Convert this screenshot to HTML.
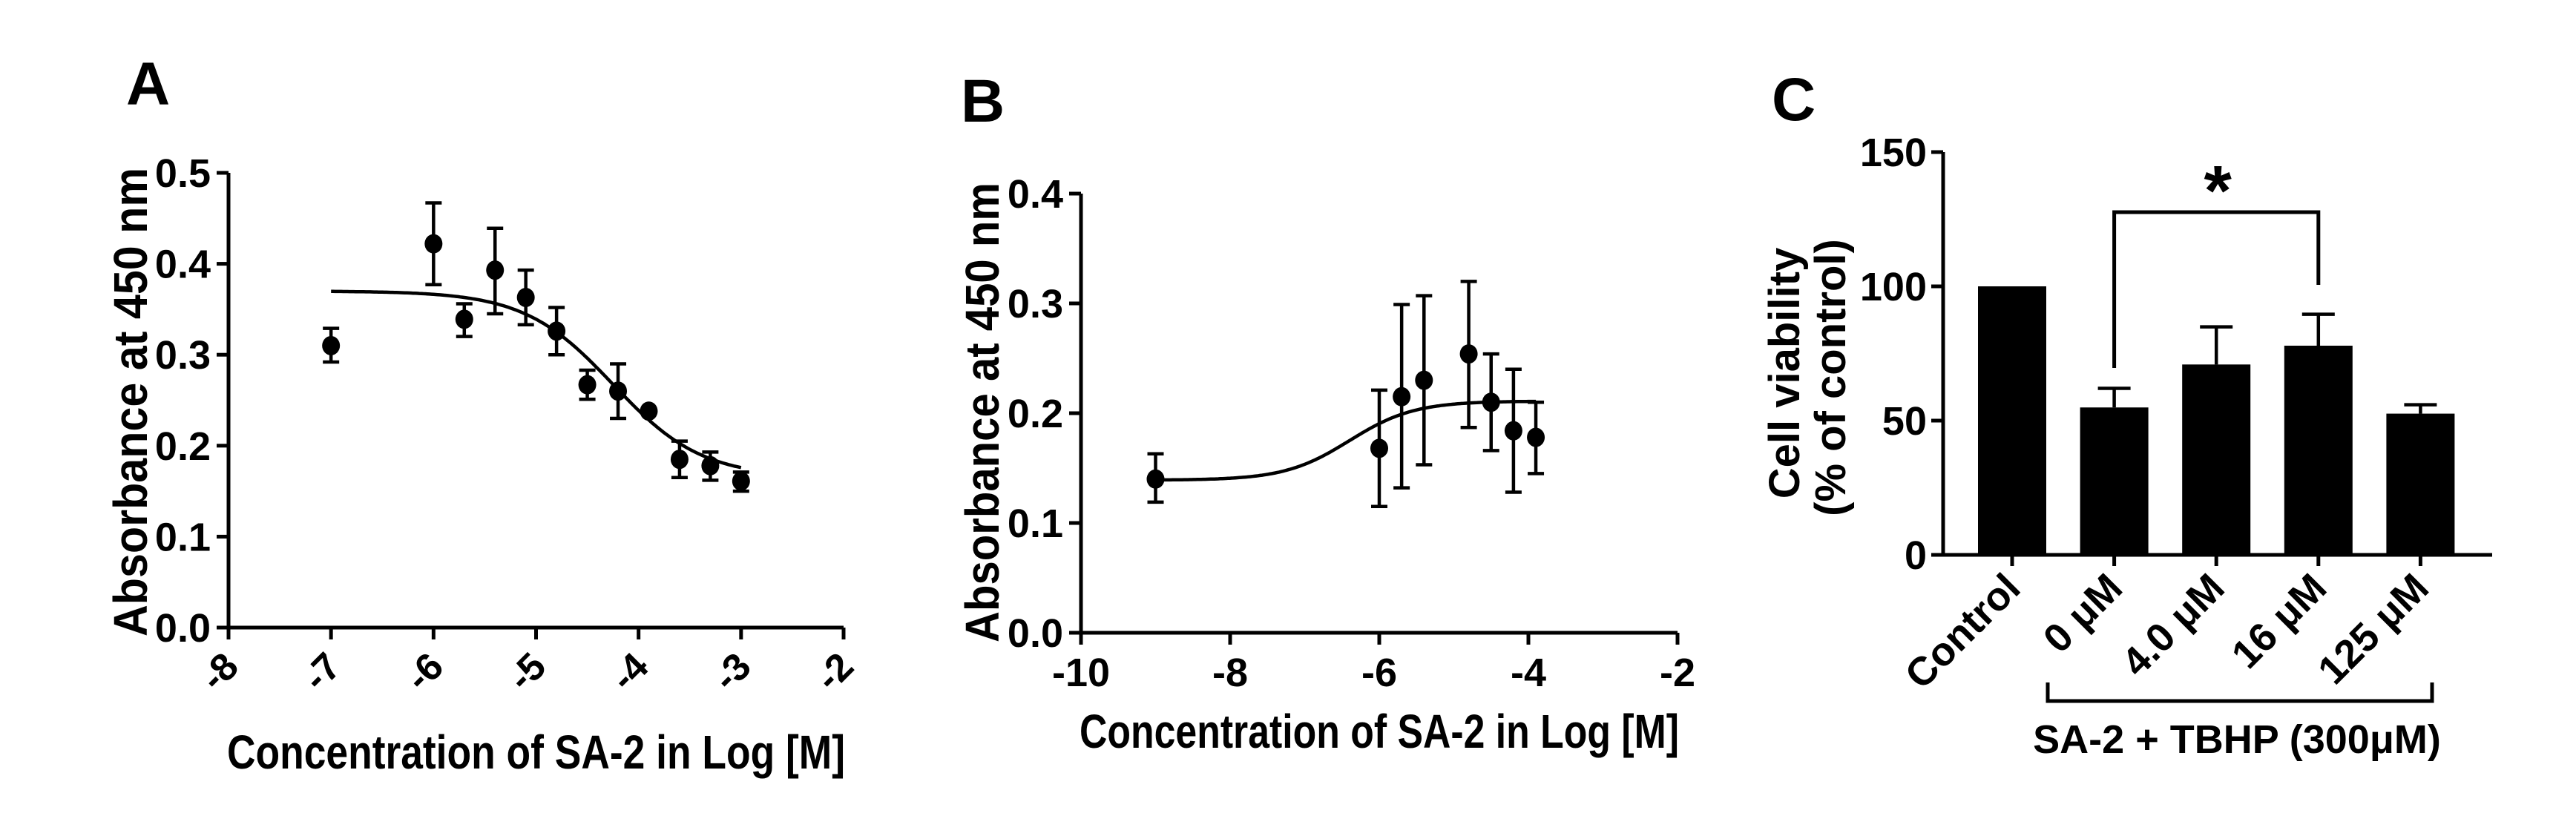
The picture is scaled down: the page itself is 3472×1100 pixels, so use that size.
<!DOCTYPE html>
<html><head><meta charset="utf-8"><style>
html,body{margin:0;padding:0;background:#fff;}
svg{display:block;}
text{font-family:"Liberation Sans Narrow","Liberation Sans",sans-serif;font-weight:bold;fill:#000;}
</style></head><body>
<svg id="fig" width="3472" height="1100" viewBox="0 0 3472 1100" xmlns="http://www.w3.org/2000/svg"></svg>
<script>
// Panel A data
const aX = [-7, -6, -5.7, -5.4, -5.1, -4.8, -4.5, -4.2, -3.9, -3.6, -3.3, -3];
const aY = [0.310, 0.422, 0.339, 0.393, 0.363, 0.326, 0.267, 0.260, 0.238, 0.185, 0.178, 0.161];
const aErrHi = [0.329, 0.467, 0.356, 0.439, 0.393, 0.352, 0.283, 0.290, 0.238, 0.205, 0.193, 0.171];
const aErrLo = [0.292, 0.377, 0.320, 0.345, 0.333, 0.300, 0.251, 0.230, 0.238, 0.165, 0.162, 0.150];
const aFit = [0.370, 0.165, -4.25, 1]; // top, bottom, logIC50, hill
const aXTicks = [-8, -7, -6, -5, -4, -3, -2];
const aYTicks = [0.0, 0.1, 0.2, 0.3, 0.4, 0.5];
// Panel B data
const bX = [-9, -6, -5.7, -5.4, -4.8, -4.5, -4.2, -3.9];
const bY = [0.140, 0.168, 0.215, 0.230, 0.254, 0.210, 0.184, 0.178];
const bErrHi = [0.163, 0.221, 0.299, 0.307, 0.320, 0.254, 0.240, 0.210];
const bErrLo = [0.119, 0.115, 0.132, 0.153, 0.187, 0.166, 0.128, 0.145];
const bFit = [0.211, 0.139, -6.4, -1];
const bXTicks = [-10, -8, -6, -4, -2];
const bYTicks = [0.0, 0.1, 0.2, 0.3, 0.4];
// Panel C data
const cCats = ["Control", "0 \u03BCM", "4.0 \u03BCM", "16 \u03BCM", "125 \u03BCM"];
const cVals = [100, 54.9, 70.9, 77.9, 52.6];
const cErr = [0, 7.1, 14.0, 11.7, 3.3];
const cYTicks = [0, 50, 100, 150];

const NS = "http://www.w3.org/2000/svg";
const svg = document.getElementById('fig');
function mk(tag, attrs, parent, txt) {
  const e = document.createElementNS(NS, tag);
  for (const k in attrs) e.setAttribute(k, attrs[k]);
  if (txt !== undefined) e.textContent = txt;
  (parent || svg).appendChild(e);
  return e;
}
const SW = 5;

function grp(name) {
  const g = mk('g', {});
  
  
  return g;
}

function scatterPanel(p) {
  const g = grp(p.name);
  const sx = v => p.x0 + (v - p.xmin) / (p.xmax - p.xmin) * (p.x1 - p.x0);
  const sy = v => p.y0 - (v - p.ymin) / (p.ymax - p.ymin) * (p.y0 - p.y1);
  const xa = mk('line', {x1: p.x0, y1: p.y0, x2: p.x1, y2: p.y0, stroke: '#000', 'stroke-width': SW}, g);
  
  
  const ya = mk('line', {x1: p.x0, y1: p.y0 + SW/2, x2: p.x0, y2: p.y1, stroke: '#000', 'stroke-width': SW}, g);
  
  
  p.yTicks.forEach(t => {
    const y = sy(t);
    mk('line', {x1: p.x0 - 16, y1: y, x2: p.x0, y2: y, stroke: '#000', 'stroke-width': SW}, g);
    const tl = mk('text', {x: p.x0 - 24, y: y + 19, 'font-size': 54, 'text-anchor': 'end'}, g, t.toFixed(1));
    
    
  });
  p.xTicks.forEach(t => {
    const x = sx(t);
    mk('line', {x1: x, y1: p.y0, x2: x, y2: p.y0 + 16, stroke: '#000', 'stroke-width': SW}, g);
    let tl;
    if (p.rotX) {
      tl = mk('text', {x: 0, y: 0, 'font-size': 52, 'text-anchor': 'middle',
        transform: `translate(${x},${p.y0 + 72}) rotate(-45)`}, g, String(t));
    } else {
      tl = mk('text', {x: x, y: p.y0 + 72, 'font-size': 54, 'text-anchor': 'middle'}, g, String(t));
    }
    
    
  });
  const f = p.fit;
  let d = '';
  const n = 200;
  for (let i = 0; i <= n; i++) {
    const xv = p.fitFrom + (p.fitTo - p.fitFrom) * i / n;
    const yv = f[1] + (f[0] - f[1]) / (1 + Math.pow(10, (xv - f[2]) * f[3]));
    d += (i ? 'L' : 'M') + sx(xv).toFixed(1) + ' ' + sy(yv).toFixed(1);
  }
  const c = mk('path', {d: d, fill: 'none', stroke: '#000', 'stroke-width': 4.5}, g);
  
  
  p.xs.forEach((xv, i) => {
    const x = sx(xv);
    if (p.hi[i] - p.lo[i] > 0.002) {
      const eb = mk('path', {d: `M${x} ${sy(p.hi[i])}V${sy(p.lo[i])}M${x-11} ${sy(p.hi[i])}H${x+11}M${x-11} ${sy(p.lo[i])}H${x+11}`,
        stroke: '#000', 'stroke-width': 4.5, fill: 'none'}, g);
      
      
    }
    const pt = mk('ellipse', {cx: x, cy: sy(p.ys[i]), rx: 12, ry: 13, fill: '#000'}, g);
    
    
  });
  const xt = mk('text', {x: (p.x0 + p.x1) / 2, y: p.xTitleY, 'font-size': 64, 'text-anchor': 'middle',
    textLength: p.x1 - p.x0 + 4, lengthAdjust: 'spacingAndGlyphs'}, g, 'Concentration of SA-2  in Log [M]');
  
  
  const yt = mk('text', {x: 0, y: 0, 'font-size': 64, 'text-anchor': 'middle', textLength: p.yTitleLen,
    lengthAdjust: 'spacingAndGlyphs', transform: `translate(${p.yTitleX},${p.yTitleMid}) rotate(-90)`}, g, 'Absorbance at 450 nm');
  
  
  const pl = mk('text', {x: p.lblX, y: p.lblY, 'font-size': 82, 'font-family': '"Liberation Sans",sans-serif'}, g, p.label);
  
  
}

scatterPanel({name: 'panel-a', x0: 308, x1: 1137, y0: 846, y1: 233, xmin: -8, xmax: -2, ymin: 0, ymax: 0.5,
  xTicks: aXTicks, yTicks: aYTicks, rotX: true, xs: aX, ys: aY, hi: aErrHi, lo: aErrLo,
  fit: aFit, fitFrom: -7, fitTo: -3, xTitleY: 1036, yTitleX: 198, yTitleMid: 542, yTitleLen: 632,
  label: 'A', lblX: 170, lblY: 141});
scatterPanel({name: 'panel-b', x0: 1457, x1: 2261, y0: 853, y1: 261, xmin: -10, xmax: -2, ymin: 0, ymax: 0.4,
  xTicks: bXTicks, yTicks: bYTicks, rotX: false, xs: bX, ys: bY, hi: bErrHi, lo: bErrLo,
  fit: bFit, fitFrom: -9, fitTo: -3.9, xTitleY: 1008, yTitleX: 1346, yTitleMid: 556, yTitleLen: 620,
  label: 'B', lblX: 1295, lblY: 164});

// Panel C
(function () {
  const g = grp('panel-c');
  const x0 = 2619, x1 = 3359, y0 = 748, y1 = 205, ymax = 150;
  const sy = v => y0 - v / ymax * (y0 - y1);
  const step = 137.6, first = 2712, bw = 92;
  const bx = i => first + i * step;
  cVals.forEach((v, i) => {
    const r = mk('rect', {x: bx(i) - bw/2, y: sy(v), width: bw, height: y0 - sy(v), fill: '#000'}, g);
    
    
    if (cErr[i] > 0) {
      const e = mk('path', {d: `M${bx(i)} ${sy(v)}V${sy(v + cErr[i])}M${bx(i)-22} ${sy(v + cErr[i])}H${bx(i)+22}`,
        stroke: '#000', 'stroke-width': 4.5, fill: 'none'}, g);
      
      
    }
    mk('line', {x1: bx(i), y1: y0, x2: bx(i), y2: y0 + 15, stroke: '#000', 'stroke-width': SW}, g);
    const t = mk('text', {x: 0, y: 0, 'font-size': 54, 'text-anchor': 'end',
      transform: `translate(${bx(i) + 14},${y0 + 48}) rotate(-45)`}, g, cCats[i]);
    
    
  });
  const xa = mk('line', {x1: x0, y1: y0, x2: x1, y2: y0, stroke: '#000', 'stroke-width': SW}, g);
  
  
  const ya = mk('line', {x1: x0, y1: y0 + SW/2, x2: x0, y2: y1, stroke: '#000', 'stroke-width': SW}, g);
  
  
  cYTicks.forEach(t => {
    mk('line', {x1: x0 - 16, y1: sy(t), x2: x0, y2: sy(t), stroke: '#000', 'stroke-width': SW}, g);
    const tl = mk('text', {x: x0 - 22, y: sy(t) + 19, 'font-size': 54, 'text-anchor': 'end'}, g, String(t));
    
    
  });
  const br = mk('path', {d: `M${bx(1)} 496V286H${bx(3)}V384`, stroke: '#000', 'stroke-width': SW, fill: 'none'}, g);
  
  
  const st = mk('text', {x: (bx(1) + bx(3)) / 2 + 2, y: 290, 'font-size': 96, 'text-anchor': 'middle',
    'font-family': '"Liberation Sans",sans-serif'}, g, '*');
  
  
  const gb = mk('path', {d: 'M2760 920V945H3278V920', stroke: '#000', 'stroke-width': SW, fill: 'none'}, g);
  
  
  const gl = mk('text', {x: 3015, y: 1015, 'font-size': 54, 'text-anchor': 'middle'}, g, 'SA-2 + TBHP (300\u03BCM)');
  
  
  const y1t = mk('text', {x: 0, y: 0, 'font-size': 58, 'text-anchor': 'middle',
    transform: 'translate(2425,503) rotate(-90)'}, g, 'Cell viability');
  
  
  const y2t = mk('text', {x: 0, y: 0, 'font-size': 58, 'text-anchor': 'middle',
    transform: 'translate(2487,509) rotate(-90)'}, g, '(% of control)');
  
  
  const pl = mk('text', {x: 2388, y: 162, 'font-size': 82, 'font-family': '"Liberation Sans",sans-serif'}, g, 'C');
  
  
})();
</script>
</body></html>
